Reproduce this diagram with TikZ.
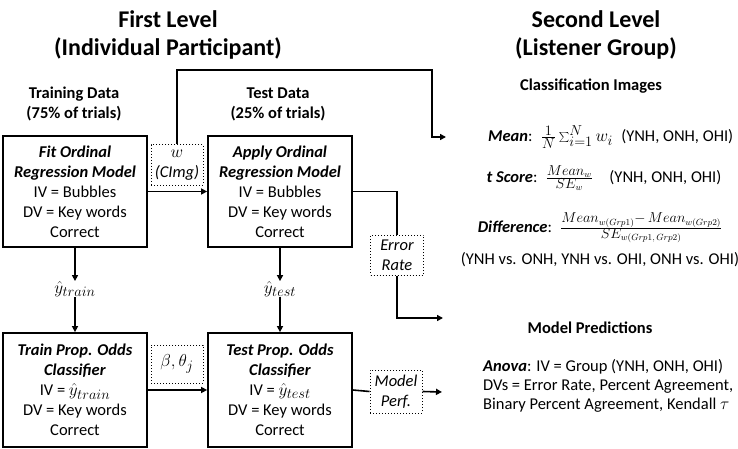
\documentclass[tikz,border=0pt]{standalone}
\usepackage{fontspec}
\setmainfont{Carlito}
\usetikzlibrary{arrows.meta}
\newcommand\mymath[1]{{\fontsize{19}{20}\selectfont$#1$}}
\begin{document}
\begin{tikzpicture}[x=1pt,y=-1pt,
  every node/.style={font=\fontsize{16.5}{20}\selectfont, inner sep=0pt},
  title/.style={font=\fontsize{24}{28}\selectfont\bfseries, align=center},
  head/.style={font=\fontsize{16.5}{20}\selectfont\bfseries, align=center},
  box/.style={draw, line width=1.8pt, align=center, minimum width=144pt},
  dbox/.style={draw, dotted, line width=1pt, align=center, font=\fontsize{16.5}{20}\selectfont\itshape},
  conn/.style={line width=1.6pt},
  arr/.style={conn, -{Triangle[length=6pt,width=6pt]}}
]
\useasboundingbox (0,0) rectangle (738,449);

% titles
\node[title] (t1) at (168,35) {First Level\\(Individual Participant)};
\node[title] (t2) at (596,35) {Second Level\\(Listener Group)};
\node[head] (h1) at (74,104) {Training Data\\(75\% of trials)};
\node[head] (h2) at (278,104) {Test Data\\(25\% of trials)};

% boxes
\node[box, minimum height=111pt] (fit) at (75,191.5)
  {\textbf{\textit{Fit Ordinal}}\\\textbf{\textit{Regression Model}}\\IV = Bubbles\\DV = Key words\\Correct};
\node[box, minimum height=111pt] (apply) at (280,191.5)
  {\textbf{\textit{Apply Ordinal}}\\\textbf{\textit{Regression Model}}\\IV = Bubbles\\DV = Key words\\Correct};
\node[box, minimum height=114pt] (train) at (75,390)
  {\textbf{\textit{Train Prop. Odds}}\\\textbf{\textit{Classifier}}\\IV = \smash{\mymath{\hat{y}_{train}}}\\DV = Key words\\Correct};
\node[box, minimum height=114pt] (test) at (280,390)
  {\textbf{\textit{Test Prop. Odds}}\\\textbf{\textit{Classifier}}\\IV = \smash{\mymath{\hat{y}_{test}}}\\DV = Key words\\Correct};

% intermediate labels
\node (ytrain) at (75,289) {\mymath{\hat{y}_{train}}};
\node (ytest) at (280,289) {\mymath{\hat{y}_{test}}};

% dotted boxes
\node[dbox, minimum width=52pt, minimum height=40pt] (wbox) at (177,165) {\mymath{w}\\(CImg)};
\node[dbox, minimum width=52pt, minimum height=38pt, font=\fontsize{16.5}{20}\selectfont] (beta) at (177,364) {\mymath{\beta,\theta_j}};
\node[dbox, minimum width=53pt, minimum height=40pt] (err) at (397,255) {Error\\Rate};
\node[dbox, minimum width=52pt, minimum height=43pt] (mp) at (396,391.5) {Model\\Perf.};

% free ends
\coordinate (c1) at (432,70);
\coordinate (ciend) at (446,137);
\coordinate (erend) at (443,318);
\coordinate (mpend) at (442,392);

% connectors
\draw[arr] (fit.east) -- (apply.west);
\draw[arr] (wbox.north) |- (c1) |- (ciend);
\draw[conn] (apply.east) -| (err.north);
\draw[arr] (err.south) |- (erend);
\draw[arr] (fit.south) -- (ytrain.north);
\draw[arr] (ytrain.south) -- (train.north);
\draw[arr] (apply.south) -- (ytest.north);
\draw[arr] (ytest.south) -- (test.north);
\draw[arr] (train.east) -- (test.west);
\draw[conn] (test.east) -- (mp.west);
\draw[arr] (mp.east) -- (mpend);

% second level
\node[head] (ci) at (591,86) {Classification Images};
\node[anchor=west] (mean) at (488,137)
  {\textbf{\textit{Mean}}:\enspace \mymath{\frac{1}{N}\sum_{i=1}^{N} w_i}\enspace (YNH, ONH, OHI)};
\node (tsc) at (604,178)
  {\textbf{\textit{t Score}}:\enspace \mymath{\frac{Mean_w}{SE_w}}\quad (YNH, ONH, OHI)};
\node (diff) at (600,228)
  {\textbf{\textit{Difference}}:\enspace \mymath{\frac{Mean_{w(Grp1)}-\,Mean_{w(Grp2)}}{SE_{w(Grp1,\,Grp2)}}}};
\node (vs) at (600,260) {(YNH vs. ONH, YNH vs. OHI, ONH vs. OHI)};
\node[head] (mpred) at (590,328) {Model Predictions};
\node[anchor=west, align=left, font=\fontsize{16.5}{19}\selectfont] (anova) at (483,386)
  {\textbf{\textit{Anova}}: IV = Group (YNH, ONH, OHI)\\DVs = Error Rate, Percent Agreement,\\Binary Percent Agreement, Kendall $\tau$};
\end{tikzpicture}
\end{document}
